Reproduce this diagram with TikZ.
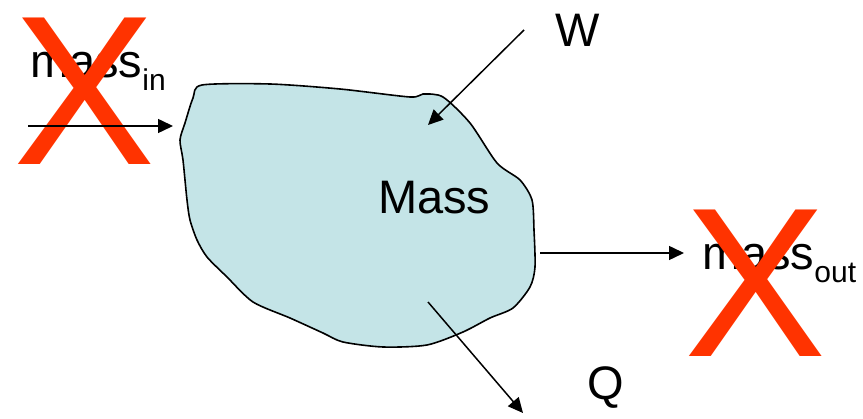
\documentclass[tikz,border=0pt]{standalone}
\usepackage{fontspec}
\setmainfont{Liberation Sans}
\usetikzlibrary{arrows.meta}
\definecolor{blobfill}{RGB}{196,228,231}
\definecolor{crossred}{RGB}{255,51,0}
\newcommand{\flowsub}[1]{{\fontsize{30}{30}\selectfont\raisebox{-13pt}{#1}}}

\begin{document}
\begin{tikzpicture}[x=1pt, y=-1pt,
  flowlbl/.style={font=\fontsize{47}{50}\selectfont, anchor=base west, inner sep=0pt},
  cross/.style={font=\fontsize{213}{213}\selectfont, text=crossred, anchor=base west, inner sep=0pt},
  flow/.style={line width=1.5pt, -{Triangle[length=15pt,width=14pt]}},
]
\useasboundingbox (0,0) rectangle (863,419);
% control volume
\draw[line width=1.6pt, fill=blobfill] plot[smooth cycle, tension=0.45] coordinates {
  (202,85) (270,84) (340,89) (410,97) (423,94) (443,97) (470,123) (497,163)
  (520,180) (532,200) (534,230) (535,267) (530,287) (513,308) (490,318)
  (463,332) (427,345) (383,347) (343,342) (323,333) (290,318) (253,302)
  (227,277) (207,257) (197,240) (190,220) (187,200) (183,160) (180,140)
  (185,123) (193,98)};
\node[flowlbl] (mass) at (378,214) {Mass};
% labels
\node[flowlbl] (min) at (30,78) {mass\flowsub{in}};
\node[flowlbl] (mout) at (702,270) {mass\flowsub{out}};
\node[flowlbl] (work) at (555,47) {W};
\node[flowlbl] (heat) at (587,400) {Q};
% crossed-out flows
\node[cross] (xin) at (13,165) {X};
\node[cross] (xout) at (684,357) {X};
% arrow ends
\coordinate (inA) at (28,126);
\coordinate (inB) at (173,126);
\coordinate (outA) at (540,253);
\coordinate (outB) at (684,253);
\coordinate (wA) at (524,30);
\coordinate (wB) at (428,125);
\coordinate (qA) at (428,302);
\coordinate (qB) at (523,413);
\draw[flow] (inA) -- (inB);
\draw[flow] (outA) -- (outB);
\draw[flow] (wA) -- (wB);
\draw[flow] (qA) -- (qB);
\end{tikzpicture}
\end{document}
